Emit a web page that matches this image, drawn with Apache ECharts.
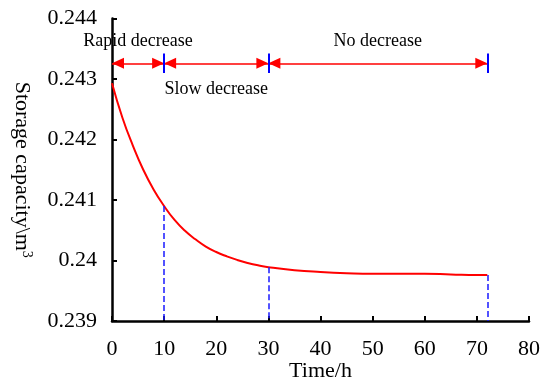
<!DOCTYPE html>
<html>
<head>
<meta charset="utf-8">
<script src="https://cdn.jsdelivr.net/npm/echarts@6/dist/echarts.min.js"></script>
<style>html,body{margin:0;padding:0;background:#fff}#c{width:542px;height:388px}</style>
</head>
<body>
<div id="c"></div>
<script>
// Data
var times = [0, 2, 4, 6, 8, 10, 12, 14, 16, 18, 20, 22, 24, 26, 28, 30, 35, 40, 45, 50, 55, 60, 65, 70, 72];
var capacity = [0.24293, 0.24236, 0.24190, 0.24150, 0.24117, 0.24090, 0.24067, 0.24049, 0.24035, 0.24023, 0.24014, 0.24007, 0.24001, 0.23996, 0.23992, 0.23989, 0.23984, 0.23981, 0.23979, 0.23978, 0.23978, 0.23978, 0.23977, 0.23976, 0.23976];
var phaseBounds = [0, 10, 30, 72];
var phaseNames = ['Rapid decrease', 'Slow decrease', 'No decrease'];
var arrowLevel = 0.24326;
var barHalf = 0.00016;
var xTicks = [0, 10, 20, 30, 40, 50, 60, 70, 80];
var yTicks = [0.239, 0.240, 0.241, 0.242, 0.243, 0.244];

var font = "'Liberation Serif','Times New Roman',serif";
var curve = times.map(function (t, i) { return [t, capacity[i]]; });
function valueAt(t) { return capacity[times.indexOf(t)]; }

var dropLines = phaseBounds.slice(1).map(function (t) {
  return [{ coord: [t, valueAt(t)] }, { coord: [t, yTicks[0]] }];
});
var arrowLines = phaseNames.map(function (name, i) {
  var below = i === 1;
  return [{ coord: [phaseBounds[i], arrowLevel], name: name,
            label: { position: below ? 'insideMiddleBottom' : 'insideMiddleTop', distance: below ? 17 : 13 } },
          { coord: [phaseBounds[i + 1], arrowLevel] }];
});
var barLines = phaseBounds.slice(1).map(function (t) {
  return [{ coord: [t, arrowLevel - barHalf] }, { coord: [t, arrowLevel + barHalf] }];
});

var chart = echarts.init(document.getElementById('c'), null, { renderer: 'canvas' });
chart.setOption({
  animation: false,
  backgroundColor: '#fff',
  grid: { left: 112, right: 13, top: 18.5, bottom: 67, containLabel: false, outerBoundsMode: 'none' },
  xAxis: {
    type: 'value', min: xTicks[0], max: xTicks[xTicks.length - 1], interval: 10,
    name: 'Time/h', nameLocation: 'middle', nameGap: 39, nameMoveOverlap: false,
    nameTextStyle: { fontFamily: font, fontSize: 22, color: '#000' },
    axisLine: { lineStyle: { color: '#000', width: 2.5 } },
    axisTick: { inside: true, length: 5, lineStyle: { color: '#000', width: 2 } },
    axisLabel: { fontFamily: font, fontSize: 22, color: '#000', margin: 17 },
    splitLine: { show: false }
  },
  yAxis: {
    type: 'value', min: yTicks[0], max: yTicks[yTicks.length - 1], interval: 0.001,
    name: '{a|Storage capacity\\m}{b|3}', nameLocation: 'middle', nameGap: 78, nameRotate: -90,
    nameMoveOverlap: false,
    nameTextStyle: { fontFamily: font, fontSize: 22, color: '#000',
      rich: { a: { fontFamily: font, fontSize: 22, color: '#000', lineHeight: 24 },
              b: { fontFamily: font, fontSize: 14, color: '#000', lineHeight: 14, verticalAlign: 'top' } } },
    axisLine: { show: true, lineStyle: { color: '#000', width: 2.5 } },
    axisTick: { show: true, inside: true, length: 5, lineStyle: { color: '#000', width: 2 } },
    axisLabel: { fontFamily: font, fontSize: 22, color: '#000', margin: 15,
      formatter: function (v) { return String(parseFloat(v.toFixed(3))); } },
    splitLine: { show: false }
  },
  series: [
    {
      type: 'line', data: curve, smooth: true, symbol: 'none', z: 3,
      lineStyle: { color: '#ff0000', width: 2 }
    },
    {
      type: 'line', data: [], symbol: 'none',
      markLine: { silent: true, symbol: ['none', 'none'], animation: false,
        lineStyle: { color: '#1a1aff', width: 1.5, type: [6, 3] }, label: { show: false },
        data: dropLines }
    },
    {
      type: 'line', data: [], symbol: 'none',
      markLine: { silent: true, symbol: ['triangle', 'triangle'], symbolSize: [11, 12],
        symbolOffset: [[0, 6], [0, 6]], animation: false,
        lineStyle: { color: '#ff0000', width: 1.5, type: 'solid' },
        itemStyle: { color: '#ff0000' },
        label: { show: true, formatter: '{b}', fontFamily: font, fontSize: 18, color: '#000' },
        data: arrowLines }
    },
    {
      type: 'line', data: [], symbol: 'none',
      markLine: { silent: true, symbol: ['none', 'none'], animation: false,
        lineStyle: { color: '#0000ff', width: 2, type: 'solid' }, label: { show: false },
        data: barLines }
    }
  ]
});
</script>
</body>
</html>
